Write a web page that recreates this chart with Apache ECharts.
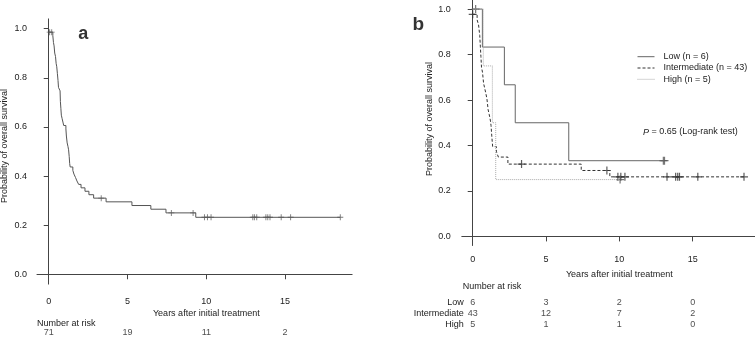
<!DOCTYPE html>
<html>
<head>
<meta charset="utf-8">
<script src="https://cdn.jsdelivr.net/npm/echarts@6.0.0/dist/echarts.min.js"></script>
<style>
html, body { margin: 0; padding: 0; background: #fff; }
#chart { width: 755px; height: 337px; }
</style>
</head>
<body>
<div id="chart"></div>
<script>
// region data

const xTicks = [0, 5, 10, 15]
const yTicks = [0, 0.2, 0.4, 0.6, 0.8, 1.0]

// a: all patients, [years, survival]
const allSteps = [
  [0, 0.986], [0.26, 0.972], [0.30, 0.944], [0.34, 0.930], [0.38, 0.901], [0.43, 0.887],
  [0.47, 0.859], [0.51, 0.845], [0.55, 0.817], [0.59, 0.789], [0.62, 0.761], [0.72, 0.747],
  [0.74, 0.704], [0.77, 0.676], [0.80, 0.648], [0.85, 0.634], [0.90, 0.620], [0.95, 0.606],
  [1.09, 0.592], [1.12, 0.563], [1.17, 0.535], [1.22, 0.521], [1.26, 0.507], [1.30, 0.479],
  [1.33, 0.451], [1.36, 0.437], [1.53, 0.423], [1.60, 0.408], [1.70, 0.394], [1.79, 0.380],
  [1.90, 0.366], [2.05, 0.352], [2.30, 0.338], [2.55, 0.324], [2.85, 0.310], [3.64, 0.295],
  [5.28, 0.280], [6.48, 0.265], [7.44, 0.250], [9.33, 0.232], [18.5, 0.232]
]
const allCensored = [
  [0.06, 0.986], [0.19, 0.986], [3.33, 0.310], [7.78, 0.250], [9.16, 0.250],
  [9.88, 0.232], [10.07, 0.232], [10.3, 0.232], [12.95, 0.232], [13.05, 0.232], [13.2, 0.232],
  [13.78, 0.232], [13.9, 0.232], [14.04, 0.232], [14.75, 0.232], [15.35, 0.232], [18.5, 0.232]
]
const allAtRisk = [71, 19, 11, 2]

// b: by risk group
const groupNames = ['Low (n = 6)', 'Intermediate (n = 43)', 'High (n = 5)']
const riskRows = ['Low', 'Intermediate', 'High']

const lowSteps = [[0, 1.0], [0.66, 0.833], [2.16, 0.667], [2.9, 0.5], [6.55, 0.333], [13.05, 0.333]]
const lowCensored = [[0.2, 1.0], [13.0, 0.333], [13.08, 0.333]]
const lowAtRisk = [6, 3, 2, 0]

const midSteps = [
  [0, 0.977], [0.30, 0.953], [0.40, 0.930], [0.48, 0.884], [0.52, 0.837], [0.56, 0.791],
  [0.60, 0.744], [0.67, 0.721], [0.74, 0.674], [0.82, 0.651], [0.90, 0.628], [0.97, 0.605],
  [1.05, 0.558], [1.13, 0.535], [1.20, 0.512], [1.25, 0.488], [1.30, 0.442], [1.36, 0.395],
  [1.62, 0.372], [1.75, 0.349], [2.40, 0.318], [7.40, 0.290], [9.35, 0.262], [18.5, 0.262]
]
const midCensored = [
  [0, 0.977], [3.33, 0.318], [9.15, 0.290], [9.9, 0.262], [10.1, 0.262], [10.38, 0.262],
  [13.25, 0.262], [13.84, 0.262], [13.98, 0.262], [14.1, 0.262], [15.35, 0.262], [18.5, 0.262]
]
const midAtRisk = [43, 12, 7, 2]

const highSteps = [[0, 1.0], [0.72, 0.75], [1.34, 0.5], [1.57, 0.25], [10.05, 0.25]]
const highCensored = [[10.05, 0.25]]
const highAtRisk = [5, 1, 1, 0]

// endregion

const FONT = '"Liberation Sans", Arial, sans-serif'
const TEXT = '#222'
const AXIS = '#444'
const X_MIN = -0.744
const X_MAX = 19.25
const PLUS = 'path://M-0.15,-1L0.15,-1L0.15,-0.15L1,-0.15L1,0.15L0.15,0.15L0.15,1L-0.15,1L-0.15,0.15L-1,0.15L-1,-0.15L-0.15,-0.15Z'

function mainX(gridIndex, labelMargin) {
  return {
    type: 'value', gridIndex, min: X_MIN, max: X_MAX,
    axisLine: {show: true, lineStyle: {color: AXIS, width: 1}},
    axisTick: {show: true, length: 5, customValues: xTicks, lineStyle: {color: AXIS}},
    axisLabel: {customValues: xTicks, margin: labelMargin, fontSize: 9, color: TEXT, fontFamily: FONT},
    splitLine: {show: false}
  }
}

function mainY(gridIndex, labelMargin) {
  return {
    type: 'value', gridIndex, min: -0.04, max: 1.04,
    axisLine: {show: true, lineStyle: {color: AXIS, width: 1}},
    axisTick: {show: true, length: 5, customValues: yTicks, lineStyle: {color: AXIS}},
    axisLabel: {
      customValues: yTicks, margin: labelMargin, fontSize: 9, color: TEXT, fontFamily: FONT,
      formatter: v => v.toFixed(1)
    },
    splitLine: {show: false}
  }
}

function hiddenX(gridIndex) {
  return {type: 'value', gridIndex, min: X_MIN, max: X_MAX, show: false}
}

function kmLine(name, data, axis, color, type) {
  return {
    name, type: 'line', step: 'end', data, symbol: 'none',
    xAxisIndex: axis, yAxisIndex: axis,
    itemStyle: {color},
    lineStyle: {color, width: 1, type}
  }
}

function censorMarks(name, data, axis, color, size) {
  return {
    name, type: 'scatter', data, symbol: PLUS, symbolSize: size,
    xAxisIndex: axis, yAxisIndex: axis,
    itemStyle: {color}
  }
}

function riskNumbers(name, counts, row, axis) {
  return {
    name, type: 'scatter', symbolSize: 0,
    xAxisIndex: axis, yAxisIndex: axis,
    data: counts.map((n, i) => [xTicks[i], row, n]),
    label: {
      show: true, position: 'inside', fontSize: 9, color: TEXT, fontFamily: FONT,
      formatter: p => String(p.value[2])
    }
  }
}

function txt(x, y, text, extra) {
  return {
    type: 'text', x, y, rotation: (extra && extra.rotation) || 0,
    style: Object.assign({
      text, fontSize: 9, fill: TEXT, fontFamily: FONT, textAlign: 'center', textVerticalAlign: 'middle'
    }, (extra && extra.style) || {})
  }
}

const chart = echarts.init(document.getElementById('chart'), null, {renderer: 'canvas'})

const option = {
  animation: false,
  backgroundColor: '#fff',
  textStyle: {fontFamily: FONT},
  grid: [
    {left: 37, top: 18.9, width: 315.1, height: 265.2},
    {left: 37, top: 328, width: 315.1, height: 10},
    {left: 461.8, top: 0, width: 293.3, height: 245.5},
    {left: 461.8, top: 297.5, width: 293.3, height: 33}
  ],
  xAxis: [mainX(0, 13), hiddenX(1), mainX(2, 10), hiddenX(3)],
  yAxis: [
    mainY(0, 10),
    {type: 'category', gridIndex: 1, data: ['all'], show: false},
    mainY(2, 11),
    {
      type: 'category', gridIndex: 3, data: riskRows, inverse: true,
      axisLine: {show: false}, axisTick: {show: false},
      axisLabel: {interval: 0, margin: -2, fontSize: 9, color: TEXT, fontFamily: FONT}
    }
  ],
  legend: {
    data: groupNames,
    orient: 'vertical', left: 637, top: 52.2,
    itemWidth: 17, itemHeight: 9, itemGap: 2.3, padding: 0,
    itemStyle: {opacity: 0},
    lineStyle: {width: 1},
    textStyle: {fontSize: 9, color: TEXT, fontFamily: FONT, padding: [0, 0, 0, 4]}
  },
  series: [
    kmLine('all', allSteps, 0, '#555', 'solid'),
    censorMarks('all censored', allCensored, 0, '#555', 6),
    riskNumbers('all at risk', allAtRisk, 0, 1),

    kmLine(groupNames[0], lowSteps, 2, '#666', 'solid'),
    kmLine(groupNames[1], midSteps, 2, '#333', [3, 2]),
    kmLine(groupNames[2], highSteps, 2, '#aaa', [1, 1]),
    censorMarks('low censored', lowCensored, 2, '#555', 8),
    censorMarks('mid censored', midCensored, 2, '#333', 8),
    censorMarks('high censored', highCensored, 2, '#555', 8),
    riskNumbers('low at risk', lowAtRisk, 0, 3),
    riskNumbers('mid at risk', midAtRisk, 1, 3),
    riskNumbers('high at risk', highAtRisk, 2, 3)
  ],
  graphic: [
    txt(83.3, 33.8, 'a', {style: {fontSize: 18, fontWeight: 'bold', fill: '#333'}}),
    txt(418.3, 25.1, 'b', {style: {fontSize: 19, fontWeight: 'bold', fill: '#333'}}),
    txt(4.5, 146, 'Probability of overall survival', {rotation: Math.PI / 2}),
    txt(430, 119, 'Probability of overall survival', {rotation: Math.PI / 2}),
    txt(206.3, 313.3, 'Years after initial treatment'),
    txt(619.3, 275, 'Years after initial treatment'),
    txt(37, 324, 'Number at risk', {style: {textAlign: 'left'}}),
    txt(462.7, 287, 'Number at risk', {style: {textAlign: 'left'}}),
    {
      type: 'text', x: 643, y: 132,
      style: {
        text: '{i|P} = 0.65 (Log-rank test)', fontSize: 9, fill: TEXT, fontFamily: FONT, textVerticalAlign: 'middle',
        rich: {i: {fontStyle: 'italic', fontSize: 9, fill: TEXT, fontFamily: FONT}}
      }
    }
  ]
}

chart.setOption(option)
</script>
</body>
</html>
